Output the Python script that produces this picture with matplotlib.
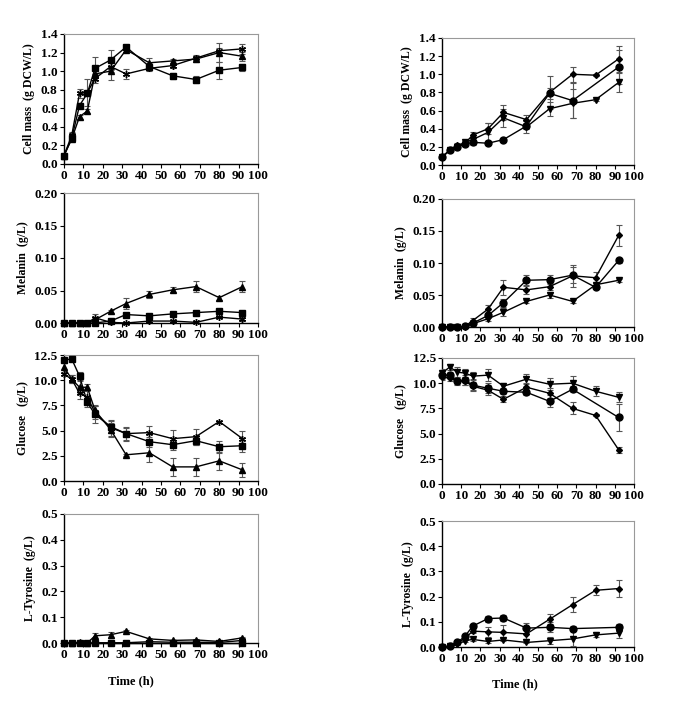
import numpy as np
import matplotlib
matplotlib.use("Agg")
import matplotlib.pyplot as plt

plt.rcParams['font.family'] = ['Liberation Serif', 'DejaVu Serif']
plt.rcParams['font.weight'] = 'bold'

nan = np.nan
t = [0, 4, 8, 12, 16, 24, 32, 44, 56, 68, 80, 92]

# left column: square, triangle, asterisk
cm_sq = [0.09, 0.28, 0.63, 0.76, 1.03, 1.12, 1.26, 1.05, 0.95, 0.91, 1.01, 1.04]
cm_sq_e = [0.01, 0.02, 0.03, 0.03, 0.12, 0.11, 0.02, 0.04, 0.03, 0.04, 0.09, 0.04]
cm_tr = [0.09, 0.27, 0.51, 0.57, 0.97, 1.00, 1.23, 1.09, 1.11, 1.13, 1.20, 1.16]
cm_tr_e = [0.01, 0.02, 0.02, 0.02, 0.06, 0.10, 0.02, 0.05, 0.02, 0.03, 0.10, 0.05]
cm_st = [0.09, 0.31, 0.76, 0.77, 0.92, 1.05, 0.97, 1.03, 1.06, 1.14, 1.22, 1.24]
cm_st_e = [0.01, 0.03, 0.05, 0.15, 0.05, 0.06, 0.05, 0.03, 0.03, 0.03, 0.03, 0.05]

mel_sq = [0, 0, 0, 0, 0, 0.003, 0.013, 0.011, 0.014, 0.016, 0.018, 0.016]
mel_sq_e = [0, 0, 0, 0, 0.001, 0.001, 0.002, 0.002, 0.002, 0.002, 0.002, 0.002]
mel_tr = [0, 0, 0, 0, 0.005, 0.018, 0.030, 0.044, 0.051, 0.056, 0.039, 0.056]
mel_tr_e = [0, 0, 0, 0, 0.003, 0.002, 0.008, 0.005, 0.004, 0.008, 0.003, 0.008]
mel_st = [0, 0, 0, 0, 0.008, 0.001, 0.0, 0.003, 0.003, 0.001, 0.009, 0.006]
mel_st_e = [0, 0, 0, 0, 0.006, 0.001, 0.001, 0.002, 0.002, 0.001, 0.002, 0.003]

glc_sq = [12.0, 12.1, 10.4, 7.8, 6.6, 5.4, 4.7, 3.9, 3.6, 4.0, 3.4, 3.5]
glc_sq_e = [0.3, 0.2, 0.4, 0.5, 0.8, 0.6, 0.6, 0.5, 0.5, 0.4, 0.6, 0.6]
glc_tr = [11.3, 10.1, 9.3, 9.3, 7.0, 5.1, 2.6, 2.8, 1.4, 1.4, 2.0, 1.1]
glc_tr_e = [0.4, 0.4, 0.6, 0.3, 0.5, 0.7, 0.1, 0.9, 0.9, 0.9, 0.9, 0.7]
glc_st = [10.6, 10.1, 8.7, 8.3, 6.8, 5.3, 4.7, 4.8, 4.2, 4.4, 5.9, 4.2]
glc_st_e = [0.2, 0.4, 0.6, 0.6, 0.6, 0.8, 0.7, 0.7, 0.9, 0.8, 0.1, 0.8]

tyr_sq = [0, 0, 0, 0, 0, 0, 0, 0, 0, 0, 0, 0]
tyr_sq_e = [0, 0, 0, 0, 0, 0, 0, 0, 0, 0, 0, 0]
tyr_tr = [0, 0, 0.003, 0, 0.028, 0.032, 0.045, 0.016, 0.010, 0.012, 0.006, 0.020]
tyr_tr_e = [0, 0, 0.003, 0, 0.012, 0.012, 0.004, 0.004, 0.003, 0.003, 0.003, 0.005]
tyr_st = [0, 0, 0.001, 0, 0.001, 0.001, 0.001, 0.005, 0.003, 0.003, 0.002, 0.010]
tyr_st_e = [0, 0, 0, 0, 0, 0, 0, 0.002, 0.002, 0.002, 0.002, 0.004]

# right column: circle, diamond, down triangle
rcm_ci = [0.09, 0.16, 0.20, 0.23, 0.25, 0.24, 0.28, 0.43, 0.79, 0.71, nan, 1.08]
rcm_ci_e = [0.01, 0.01, 0.02, 0.02, 0.03, 0.02, 0.02, 0.03, 0.06, 0.19, nan, 0.19]
rcm_di = [0.09, 0.16, 0.22, 0.24, 0.33, 0.40, 0.58, 0.50, 0.80, 1.00, 0.99, 1.17]
rcm_di_e = [0.01, 0.01, 0.02, 0.03, 0.03, 0.06, 0.08, 0.05, 0.18, 0.08, 0.01, 0.14]
rcm_dt = [0.09, 0.16, 0.20, 0.25, 0.28, 0.36, 0.52, 0.42, 0.62, 0.68, 0.72, 0.91]
rcm_dt_e = [0.01, 0.01, 0.02, 0.02, 0.03, 0.10, 0.10, 0.07, 0.08, 0.16, 0.01, 0.10]

rmel_ci = [0, 0, 0, 0.001, 0.006, 0.018, 0.038, 0.073, 0.074, 0.081, 0.062, 0.104]
rmel_ci_e = [0, 0, 0, 0.001, 0.004, 0.004, 0.006, 0.008, 0.007, 0.012, 0.003, 0.004]
rmel_di = [0, 0, 0, 0.001, 0.010, 0.028, 0.062, 0.058, 0.063, 0.080, 0.077, 0.143]
rmel_di_e = [0, 0, 0, 0.001, 0.004, 0.007, 0.012, 0.006, 0.005, 0.017, 0.009, 0.017]
rmel_dt = [0, 0, 0, 0, 0.005, 0.013, 0.023, 0.040, 0.050, 0.040, 0.066, 0.073]
rmel_dt_e = [0, 0, 0, 0, 0.003, 0.003, 0.006, 0.002, 0.004, 0.002, 0.002, 0.002]

rglc_ci = [10.8, 10.8, 10.2, 10.3, 9.8, 9.5, 9.2, 9.1, 8.2, 9.4, nan, 6.6]
rglc_ci_e = [0.4, 0.3, 0.4, 0.5, 0.6, 0.5, 0.3, 0.3, 0.6, 0.3, nan, 1.3]
rglc_di = [10.6, 10.5, 10.2, 10.2, 9.7, 9.3, 8.4, 9.6, 9.0, 7.5, 6.8, 3.4]
rglc_di_e = [0.3, 0.3, 0.3, 0.4, 0.4, 0.5, 0.3, 0.4, 0.5, 0.6, 0.1, 0.3]
rglc_dt = [11.0, 11.6, 11.1, 11.0, 10.7, 10.8, 9.7, 10.4, 9.9, 10.0, 9.2, 8.6]
rglc_dt_e = [0.4, 0.3, 0.5, 0.4, 0.4, 0.6, 0.3, 0.5, 0.6, 0.7, 0.5, 0.5]

rtyr_ci = [0, 0.003, 0.018, 0.043, 0.083, 0.113, 0.115, 0.075, 0.078, 0.073, nan, 0.078]
rtyr_ci_e = [0, 0.001, 0.003, 0.005, 0.006, 0.012, 0.012, 0.02, 0.02, 0.01, nan, 0.012]
rtyr_di = [0, 0.003, 0.015, 0.035, 0.063, 0.060, 0.058, 0.052, 0.110, 0.168, 0.225, 0.232]
rtyr_di_e = [0, 0.001, 0.003, 0.005, 0.008, 0.02, 0.03, 0.02, 0.02, 0.03, 0.02, 0.035]
rtyr_dt = [0, 0.002, 0.010, 0.025, 0.030, 0.022, 0.028, 0.018, 0.025, 0.032, 0.048, 0.055]
rtyr_dt_e = [0, 0.001, 0.003, 0.004, 0.005, 0.006, 0.006, 0.004, 0.015, 0.03, 0.01, 0.02]


def series(ax, y, e, marker, ms):
    y = np.array(y, dtype=float)
    e = np.array(e, dtype=float)
    x = np.array(t, dtype=float)
    ok = ~np.isnan(y)
    lines = ax.errorbar(x[ok], y[ok], yerr=e[ok], color='black', ecolor='#555555',
                        elinewidth=0.8, capsize=2.5, capthick=0.8, lw=1.0,
                        marker=marker, ms=ms, mfc='black', mec='black', zorder=3)
    lines[0].set_clip_on(False)


def style(ax, ymax, ystep, fmt, ylabel):
    ax.set_xlim(0, 100)
    ax.set_ylim(0, ymax)
    ax.set_xticks(np.arange(0, 101, 10))
    ax.set_yticks(np.arange(0, ymax + ystep / 2, ystep))
    ax.set_yticklabels([fmt % v for v in np.arange(0, ymax + ystep / 2, ystep)])
    ax.tick_params(direction='out', length=3, width=0.8, labelsize=9.5, pad=1.5)
    for lab in ax.get_xticklabels() + ax.get_yticklabels():
        lab.set_fontweight('bold')
    for s in ['top', 'right']:
        ax.spines[s].set_color('#999999')
        ax.spines[s].set_linewidth(0.8)
    for s in ['left', 'bottom']:
        ax.spines[s].set_linewidth(1.0)
    ax.set_ylabel(ylabel, fontsize=8.5, fontweight='bold', labelpad=4)


fig = plt.figure(figsize=(6.85, 7.07), dpi=100)
W, H = 685.0, 707.0

left_boxes = [(34, 164), (193, 323), (355, 481), (514, 643)]
right_boxes = [(38, 165), (199, 327), (358, 484), (521, 647)]

def make_ax(x0, x1, y0, y1):
    return fig.add_axes([x0 / W, 1 - y1 / H, (x1 - x0) / W, (y1 - y0) / H])

star = (6, 2, 0)
L = [make_ax(64, 258, a, b) for a, b in left_boxes]
R = [make_ax(442, 634, a, b) for a, b in right_boxes]

# left column
series(L[0], cm_st, cm_st_e, star, 5)
series(L[0], cm_tr, cm_tr_e, '^', 4.5)
series(L[0], cm_sq, cm_sq_e, 's', 4.5)
style(L[0], 1.4, 0.2, '%.1f', 'Cell mass  (g DCW/L)')

series(L[1], mel_st, mel_st_e, star, 5)
series(L[1], mel_tr, mel_tr_e, '^', 4.5)
series(L[1], mel_sq, mel_sq_e, 's', 4.5)
style(L[1], 0.20, 0.05, '%.2f', 'Melanin  (g/L)')

series(L[2], glc_st, glc_st_e, star, 5)
series(L[2], glc_tr, glc_tr_e, '^', 4.5)
series(L[2], glc_sq, glc_sq_e, 's', 4.5)
style(L[2], 12.5, 2.5, '%.1f', 'Glucose   (g/L)')

series(L[3], tyr_st, tyr_st_e, star, 5)
series(L[3], tyr_tr, tyr_tr_e, '^', 4.5)
series(L[3], tyr_sq, tyr_sq_e, 's', 4.5)
style(L[3], 0.5, 0.1, '%.1f', 'L-Tyrosine  (g/L)')

# right column
series(R[0], rcm_di, rcm_di_e, 'D', 3)
series(R[0], rcm_dt, rcm_dt_e, 'v', 4.5)
series(R[0], rcm_ci, rcm_ci_e, 'o', 5)
style(R[0], 1.4, 0.2, '%.1f', 'Cell mass  (g DCW/L)')

series(R[1], rmel_di, rmel_di_e, 'D', 3)
series(R[1], rmel_dt, rmel_dt_e, 'v', 4.5)
series(R[1], rmel_ci, rmel_ci_e, 'o', 5)
style(R[1], 0.20, 0.05, '%.2f', 'Melanin  (g/L)')

series(R[2], rglc_di, rglc_di_e, 'D', 3)
series(R[2], rglc_dt, rglc_dt_e, 'v', 4.5)
series(R[2], rglc_ci, rglc_ci_e, 'o', 5)
style(R[2], 12.5, 2.5, '%.1f', 'Glucose   (g/L)')

series(R[3], rtyr_di, rtyr_di_e, 'D', 3)
series(R[3], rtyr_dt, rtyr_dt_e, 'v', 4.5)
series(R[3], rtyr_ci, rtyr_ci_e, 'o', 5)
style(R[3], 0.5, 0.1, '%.1f', 'L-Tyrosine  (g/L)')

fig.text(131 / W, 1 - 681 / H, 'Time (h)', ha='center', va='center', fontsize=9, fontweight='bold')
fig.text(515 / W, 1 - 684 / H, 'Time (h)', ha='center', va='center', fontsize=9, fontweight='bold')

fig.savefig('out.png', dpi=100)
